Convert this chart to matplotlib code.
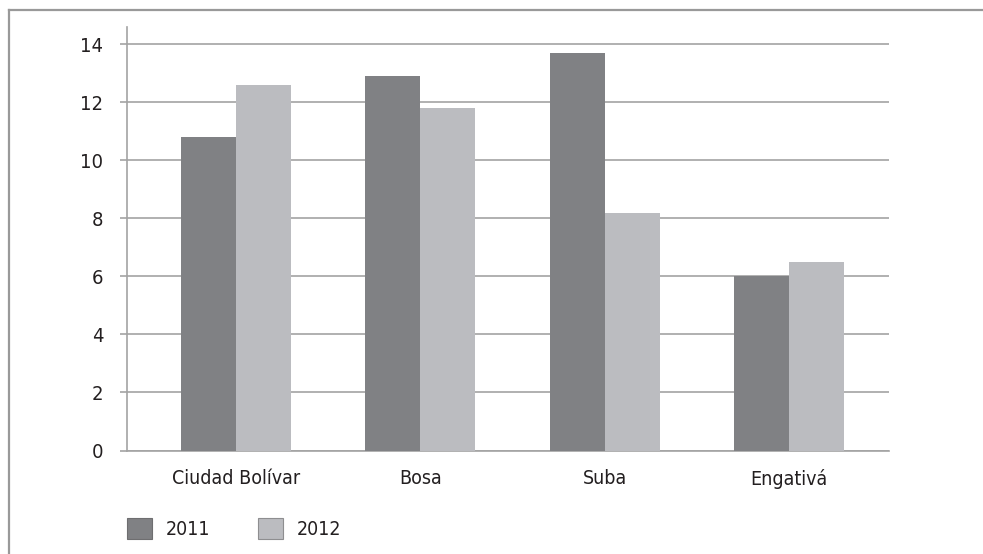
import matplotlib
matplotlib.use("Agg")
import matplotlib.pyplot as plt
from matplotlib.lines import Line2D
from matplotlib.patches import Patch
import numpy as np

plt.rcParams["font.family"] = ["DejaVu Sans"]
plt.rcParams["font.stretch"] = "condensed"

# localidades y valores por año
localidades = ["Ciudad Bolívar", "Bosa", "Suba", "Engativá"]
valores_2011 = [10.8, 12.9, 13.7, 6.0]
valores_2012 = [12.6, 11.8, 8.2, 6.5]
anios = ["2011", "2012"]

color_2011 = "#808184"
color_2012 = "#bbbcc0"
gris = "#a3a3a3"
texto = "#231f20"

fig = plt.figure(figsize=(9.83, 5.54), dpi=100)
ax = fig.add_axes([0.1292, 0.1868, 0.7752, 0.7645])

x = np.arange(len(localidades))
w = 0.298
ax.bar(x - w / 2, valores_2011, w, color=color_2011, zorder=3)
ax.bar(x + w / 2, valores_2012, w, color=color_2012, zorder=3)

ax.set_xlim(-0.591, 3.543)
ax.set_ylim(0, 14.6)
ax.set_yticks(range(0, 15, 2))
ax.set_xticks(x)
ax.set_xticklabels(localidades)

ax.yaxis.grid(True, color=gris, linewidth=1.2, zorder=0)
for s in ["top", "right"]:
    ax.spines[s].set_visible(False)
for s in ["left", "bottom"]:
    ax.spines[s].set_color(gris)
    ax.spines[s].set_linewidth(1.2)
ax.tick_params(axis="y", length=5, width=1.2, color=gris, pad=12,
               labelsize=14.5, labelcolor=texto)
ax.tick_params(axis="x", length=0, pad=13, labelsize=14, labelcolor=texto)

# leyenda
handles = [Patch(facecolor=color_2011, edgecolor="#6e6e70", linewidth=0.8),
           Patch(facecolor=color_2012, edgecolor="#8e8e90", linewidth=0.8)]
fig.legend(handles, anios, loc="center left", bbox_to_anchor=(0.129, 0.046),
           ncol=2, frameon=False, fontsize=14, handlelength=1.3,
           handleheight=1.3, handletextpad=0.7, columnspacing=2.45,
           borderpad=0, borderaxespad=0, labelcolor=texto)

# marco superior e izquierdo
fig.add_artist(Line2D([0.0092, 1], [0.982, 0.982], color="#999999", lw=1.6,
                      transform=fig.transFigure))
fig.add_artist(Line2D([0.0092, 0.0092], [0.982, 0], color="#999999", lw=1.6,
                      transform=fig.transFigure))

fig.savefig("out.png", dpi=100)
